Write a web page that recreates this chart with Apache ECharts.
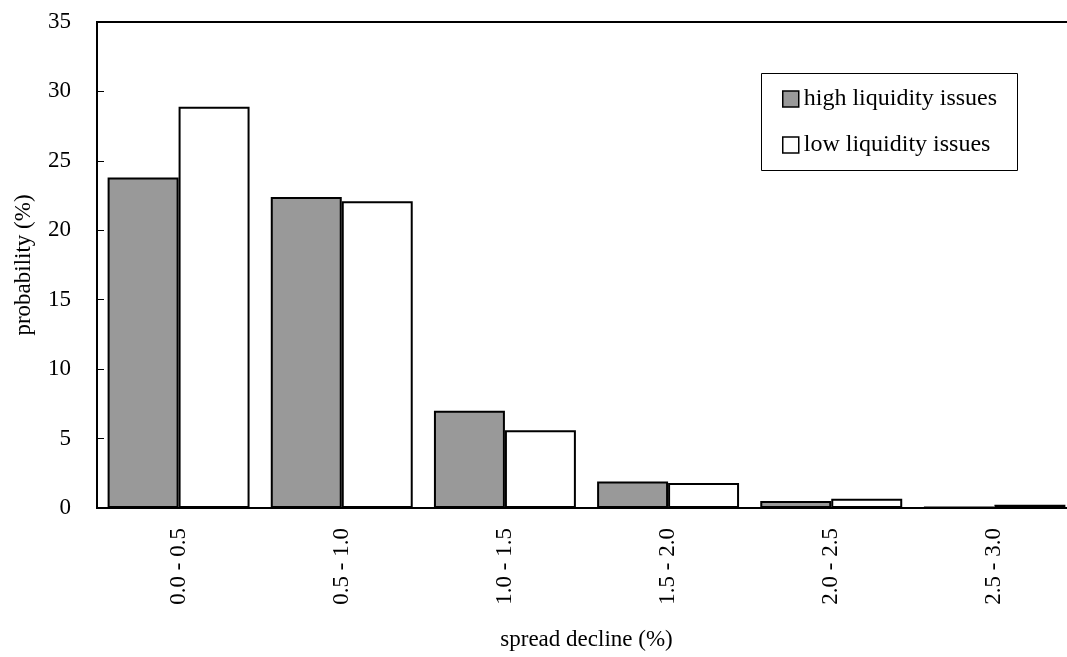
<!DOCTYPE html>
<html><head><meta charset="utf-8">
<script src="https://cdn.jsdelivr.net/npm/echarts@6/dist/echarts.min.js"></script>
<style>html,body{margin:0;padding:0;background:#fff}#wrap{position:relative;width:1067px;height:657px;overflow:hidden}#c{position:absolute;left:0;top:0;width:1076px;height:657px}</style>
</head><body><div id="wrap"><div id="c"></div></div>
<script>
const categories = ['0.0 - 0.5','0.5 - 1.0','1.0 - 1.5','1.5 - 2.0','2.0 - 2.5','2.5 - 3.0'];
const highLiquidity = [23.8, 22.4, 7.0, 1.9, 0.5, 0.07];
const lowLiquidity = [28.9, 22.1, 5.6, 1.8, 0.67, 0.24];
const yTicks = [0,5,10,15,20,25,30,35];

const F = '"Liberation Serif","DejaVu Serif",serif';
const chart = echarts.init(document.getElementById('c'));
chart.setOption({
  animation: false,
  grid: {left: 97, top: 22, right: 0, height: 486, outerBoundsMode: 'none', containLabel: false,
    show: true, borderColor: '#000', borderWidth: 2, backgroundColor: 'transparent'},
  graphic: [{type: 'rect', z: 3, shape: {x: 761.5, y: 73.5, width: 256, height: 97},
    style: {fill: '#fff', stroke: '#000', lineWidth: 1}}],
  legend: {
    orient: 'vertical', left: 782, top: 87, z: 5,
    padding: 0, itemGap: 22, itemWidth: 16, itemHeight: 16,
    textStyle: {fontFamily: F, fontSize: 24, color: '#000'},
    itemStyle: {borderColor: '#000', borderWidth: 1.5},
    data: [{name:'high liquidity issues', icon:'rect'}, {name:'low liquidity issues', icon:'rect'}]
  },
  xAxis: {
    type: 'category', data: categories,
    name: 'spread decline (%)', nameLocation: 'middle', nameGap: 120,
    nameTextStyle: {fontFamily: F, fontSize: 23, color: '#000'},
    axisLine: {lineStyle: {color: '#000', width: 2}},
    axisTick: {inside: true, length: 7, lineStyle: {color: '#000'}},
    axisLabel: {rotate: 90, margin: 20, fontFamily: F, fontSize: 23, color: '#000'}
  },
  yAxis: {
    type: 'value', min: 0, max: 35, interval: 5,
    name: 'probability (%)', nameLocation: 'middle', nameGap: 62,
    nameTextStyle: {fontFamily: F, fontSize: 23, color: '#000'},
    axisLine: {show: true, lineStyle: {color: '#000', width: 2}},
    axisTick: {show: true, inside: true, length: 7, lineStyle: {color: '#000'}},
    splitLine: {show: false},
    axisLabel: {margin: 26, fontFamily: F, fontSize: 23, color: '#000',
      formatter: v => yTicks.includes(v) ? String(v) : ''}
  },
  series: [
    {name: 'high liquidity issues', type: 'bar', data: highLiquidity, barGap: '0%', barCategoryGap: '13%',
     itemStyle: {color: '#999999', borderColor: '#000', borderWidth: 2}},
    {name: 'low liquidity issues', type: 'bar', data: lowLiquidity,
     itemStyle: {color: '#ffffff', borderColor: '#000', borderWidth: 2}}
  ]
});
</script></body></html>
